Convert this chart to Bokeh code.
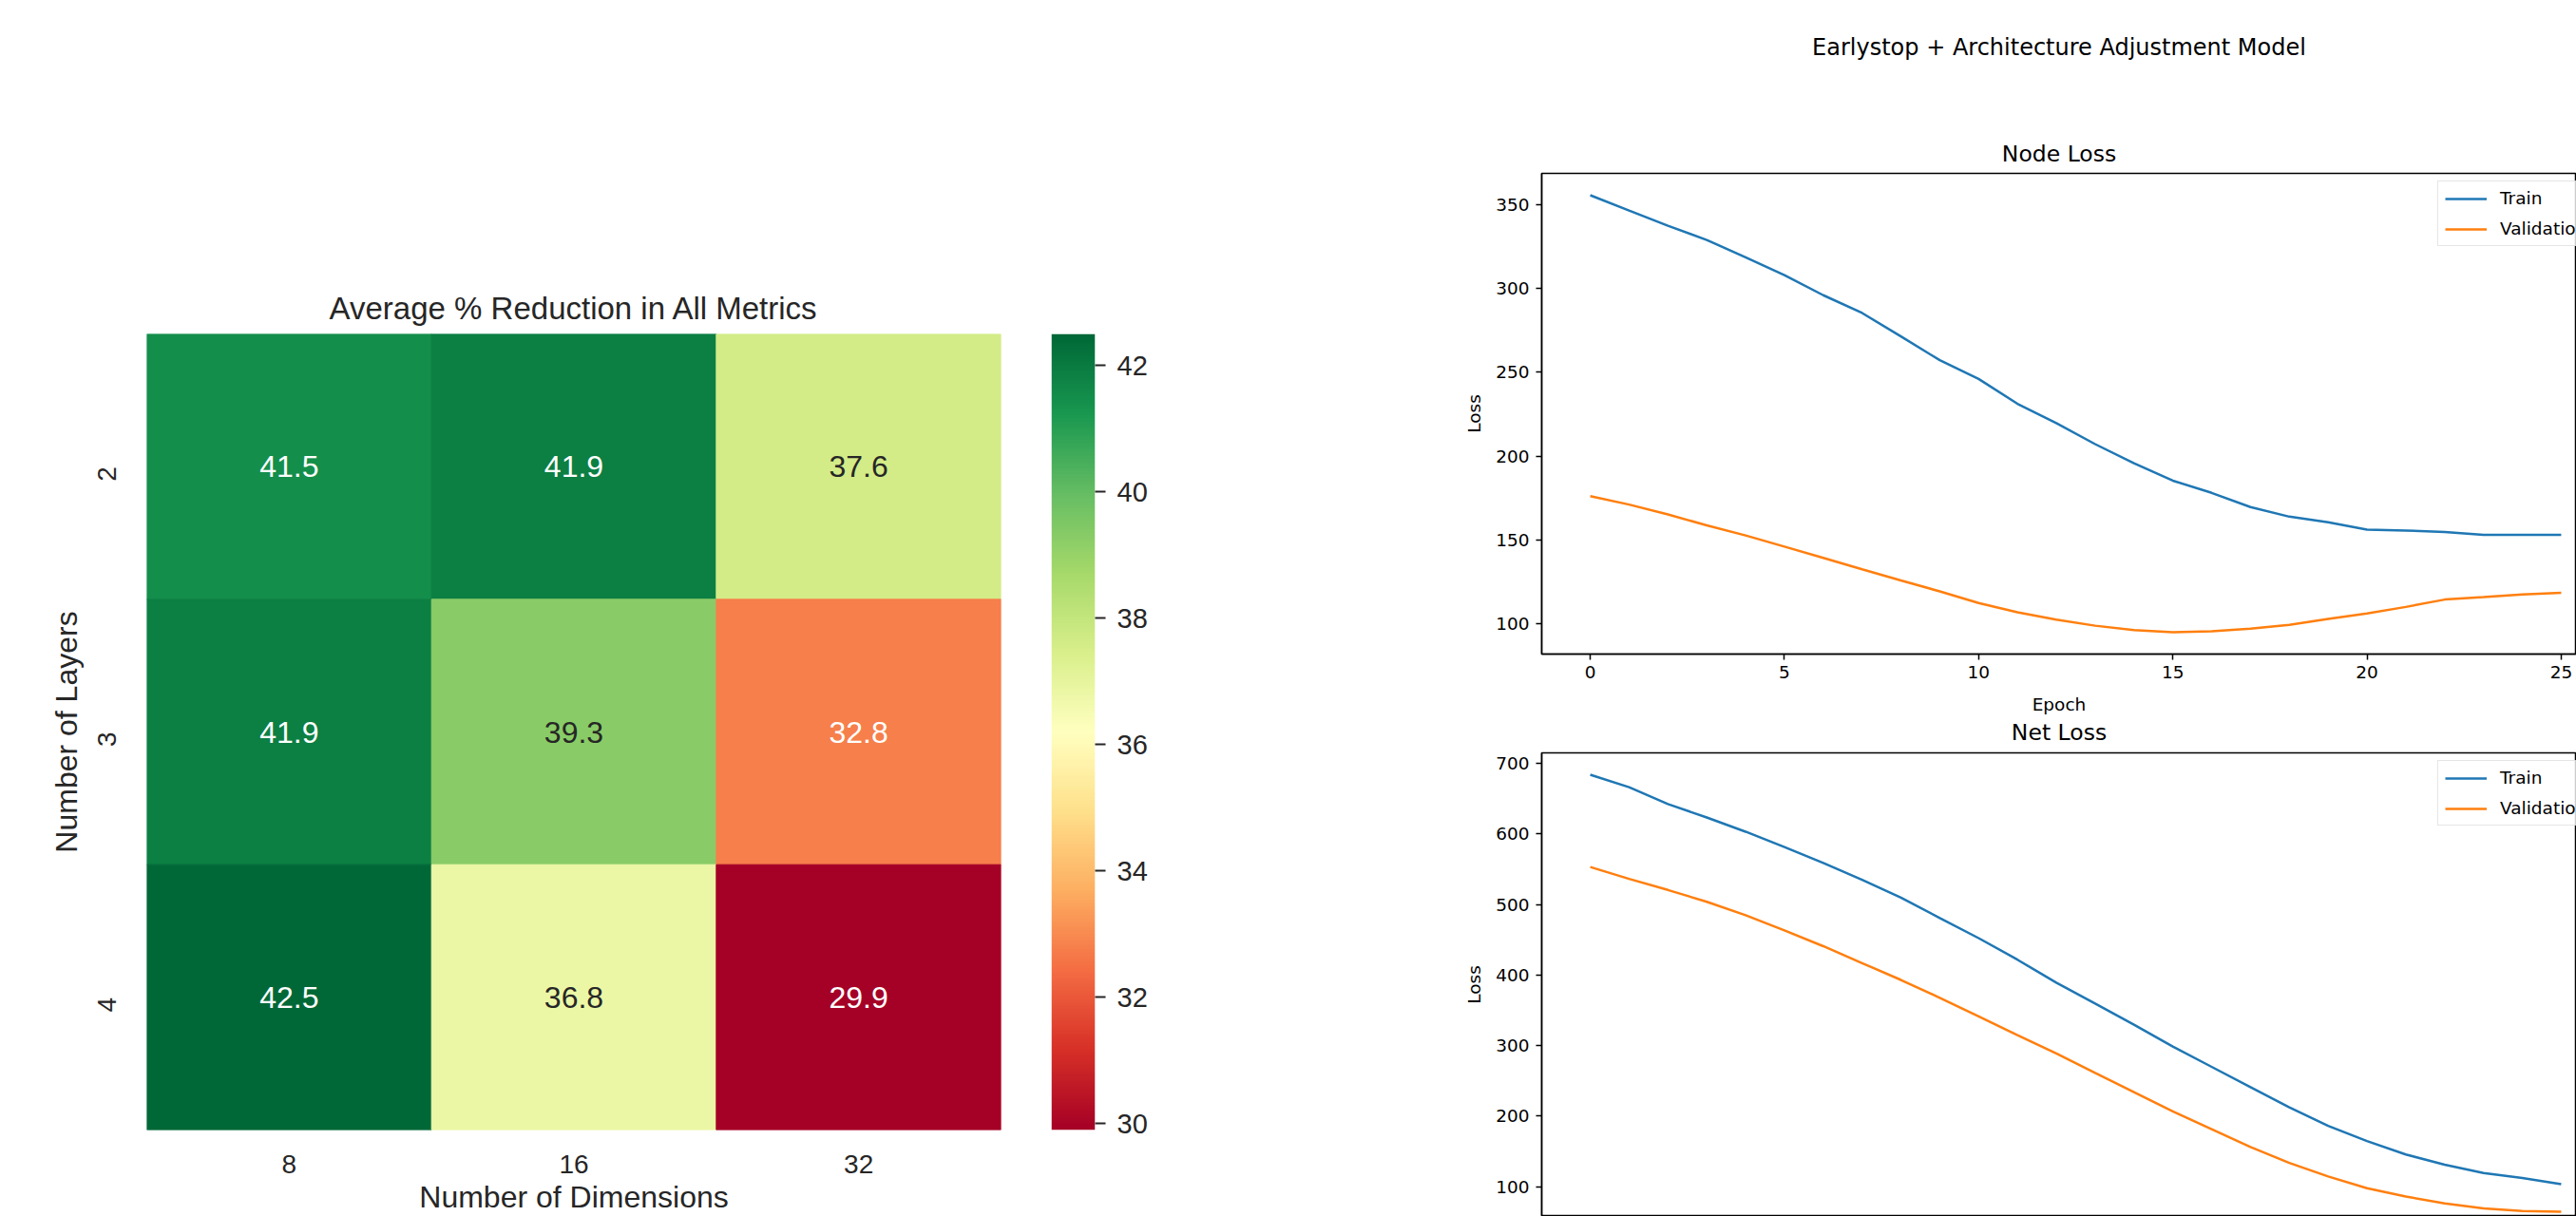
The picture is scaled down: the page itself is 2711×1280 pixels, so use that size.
import math
import numpy as np
from bokeh.plotting import figure
from bokeh.layouts import row, column
from bokeh.models import (ColumnDataSource, FactorRange, Range1d, LinearColorMapper,
                          LinearAxis, FixedTicker, Title, Legend, LegendItem)
from bokeh.core.properties import value
from bokeh.embed import file_html
from bokeh.resources import INLINE

# ---------------- data ----------------
dims = ["8", "16", "32"]
layers = ["2", "3", "4"]
reduction_l2 = [41.5, 41.9, 37.6]
reduction_l3 = [41.9, 39.3, 32.8]
reduction_l4 = [42.5, 36.8, 29.9]
cbar_ticks = [30, 32, 34, 36, 38, 40, 42]

epochs = list(range(26))
node_train = [355.7, 346.6, 337.5, 329.0, 318.6, 308.0, 296.0, 285.4, 271.4, 257.2,
              246.0, 231.2, 219.6, 207.1, 195.7, 185.3, 178.0, 169.5, 163.8, 160.4,
              156.0, 155.5, 154.7, 153.0, 153.0, 153.0]
node_val = [176.0, 171.0, 165.1, 158.6, 152.6, 145.9, 139.2, 132.4, 125.7, 119.2,
            112.2, 106.7, 102.3, 98.7, 96.1, 94.8, 95.3, 96.9, 99.2, 102.8,
            106.0, 109.9, 114.3, 115.8, 117.4, 118.4]
net_train = [684.2, 666.5, 642.6, 623.5, 603.4, 581.5, 559.0, 535.0, 509.8, 481.0,
             452.4, 421.8, 389.3, 359.7, 329.5, 298.5, 269.8, 241.1, 212.4, 186.1,
             164.6, 145.5, 131.1, 119.2, 112.0, 103.4]
net_val = [553.3, 536.5, 520.7, 504.0, 485.0, 463.4, 441.0, 417.0, 393.1, 367.8,
           341.5, 314.7, 288.9, 261.2, 233.9, 206.7, 181.4, 156.0, 133.6, 114.4,
           97.7, 85.8, 76.2, 69.0, 65.2, 64.3]
epoch_ticks = [0, 5, 10, 15, 20, 25]
node_yticks = [100, 150, 200, 250, 300, 350]
net_yticks = [100, 200, 300, 400, 500, 600, 700]

# ---------------- colour map (matplotlib RdYlGn) ----------------
rdylgn = ['#a50026', '#d73027', '#f46d43', '#fdae61', '#fee08b', '#ffffbf',
          '#d9ef8b', '#a6d96a', '#66bd63', '#1a9850', '#006837']


def hex2rgb(h):
    return tuple(int(h[i:i + 2], 16) for i in (1, 3, 5))


base_rgb = np.array([hex2rgb(c) for c in rdylgn], float)
NPAL = 256
pos = np.linspace(0, 1, len(rdylgn))
tt = np.linspace(0, 1, NPAL)
pal_rgb = np.stack([np.interp(tt, pos, base_rgb[:, k]) for k in range(3)], axis=1)
palette = ["#%02x%02x%02x" % tuple(int(round(v)) for v in c) for c in pal_rgb]

matrix = [reduction_l2, reduction_l3, reduction_l4]
allvals = [v for r in matrix for v in r]
vmin, vmax = min(allvals), max(allvals)
mapper = LinearColorMapper(palette=palette, low=vmin, high=vmax)


def rel_lum(rgb):
    c = np.array(rgb) / 255.0
    c = np.where(c <= 0.03928, c / 12.92, ((c + 0.055) / 1.055) ** 2.4)
    return 0.2126 * c[0] + 0.7152 * c[1] + 0.0722 * c[2]


xs, ys, vals, labels, tcols = [], [], [], [], []
for li, lay in enumerate(layers):
    for di, d in enumerate(dims):
        v = matrix[li][di]
        xs.append(d)
        ys.append(lay)
        vals.append(v)
        labels.append(f"{v:.1f}")
        idx = int(round((v - vmin) / (vmax - vmin) * (NPAL - 1)))
        tcols.append("#262626" if rel_lum(pal_rgb[idx]) > 0.408 else "#ffffff")
src = ColumnDataSource(dict(dim=xs, layer=ys, val=vals, label=labels, tcolor=tcols))

SANS = "Liberation Sans"
DARK = "#262626"

# ---------------- heatmap ----------------
hm = figure(width=1080, height=1280, x_range=FactorRange(*dims),
            y_range=FactorRange(*reversed(layers)),
            output_backend="svg", toolbar_location=None,
            min_border_left=154, min_border_right=27,
            min_border_top=351, min_border_bottom=90)
hm.rect(x="dim", y="layer", width=1, height=1, source=src,
        fill_color={"field": "val", "transform": mapper},
        line_color={"field": "val", "transform": mapper}, line_width=1)
hm.text(x="dim", y="layer", text="label", text_color="tcolor", source=src,
        text_align="center", text_baseline="middle",
        text_font=value(SANS), text_font_size="32px")
hm.grid.visible = False
hm.outline_line_color = None
for ax in (hm.xaxis[0], hm.yaxis[0]):
    ax.axis_line_color = None
    ax.major_tick_line_color = None
    ax.minor_tick_line_color = None
    ax.major_label_text_font = SANS
    ax.major_label_text_font_size = "28px"
    ax.major_label_text_color = DARK
    ax.axis_label_text_font = SANS
    ax.axis_label_text_font_size = "32px"
    ax.axis_label_text_font_style = "normal"
    ax.axis_label_text_color = DARK
hm.xaxis.axis_label = "Number of Dimensions"
hm.xaxis.major_label_standoff = 20
hm.xaxis.axis_label_standoff = 4
hm.yaxis.axis_label = "Number of Layers"
hm.yaxis.major_label_orientation = math.pi / 2
hm.yaxis.major_label_standoff = 36
hm.yaxis.axis_label_standoff = 3
hm.title.text = "Average % Reduction in All Metrics"
hm.title.align = "center"
hm.title.text_font = SANS
hm.title.text_font_size = "33px"
hm.title.text_font_style = "normal"
hm.title.text_color = DARK
hm.title.standoff = 18

# ---------------- colour bar ----------------
cb = figure(width=440, height=1280, x_range=Range1d(0, 1), y_range=Range1d(vmin, vmax),
            output_backend="svg", toolbar_location=None,
            x_axis_location=None, y_axis_location=None,
            min_border_left=26, min_border_right=368,
            min_border_top=351, min_border_bottom=90)
grad = np.linspace(vmin, vmax, 512).reshape(512, 1)
cb.image(image=[grad], x=0, y=vmin, dw=1, dh=vmax - vmin, color_mapper=mapper)
cb.grid.visible = False
cb.outline_line_color = None
cax = LinearAxis(ticker=FixedTicker(ticks=cbar_ticks))
cax.axis_line_color = None
cax.major_tick_line_color = DARK
cax.major_tick_line_width = 2
cax.major_tick_out = 11
cax.major_tick_in = 0
cax.minor_tick_line_color = None
cax.major_label_standoff = 12
cax.major_label_text_font = SANS
cax.major_label_text_font_size = "29px"
cax.major_label_text_color = DARK
cb.add_layout(cax, "right")

# ---------------- loss plots ----------------
MPL = "DejaVu Sans"
BLUE, ORANGE = "#1f77b4", "#ff7f0e"
FULL_W, VIS_W = 1124.0, 1089.0      # matplotlib axes width vs visible part
FULL_H, VIS_H = 506.0, 488.0


def mpl_lim(lo, hi, m=0.05):
    s = hi - lo
    return lo - m * s, hi + m * s


x0, x1 = mpl_lim(min(epochs), max(epochs))
x1_vis = x0 + (x1 - x0) * VIS_W / FULL_W
ny0, ny1 = mpl_lim(min(node_train + node_val), max(node_train + node_val))
my0, my1 = mpl_lim(min(net_train + net_val), max(net_train + net_val))
my0_vis = my1 - (my1 - my0) * VIS_H / FULL_H


def style_title(t, size="23.5px", standoff=14):
    t.align = "center"
    t.text_font = MPL
    t.text_font_size = size
    t.text_font_style = "normal"
    t.text_color = "black"
    t.standoff = standoff


def style_axes(p):
    p.grid.visible = False
    p.outline_line_color = "black"
    p.outline_line_width = 1.5
    p.background_fill_color = "white"
    for ax in p.axis:
        ax.axis_line_color = "black"
        ax.axis_line_width = 1.5
        ax.major_tick_line_color = "black"
        ax.major_tick_line_width = 1.5
        ax.major_tick_out = 6
        ax.major_tick_in = 0
        ax.minor_tick_line_color = None
        ax.major_label_standoff = 7
        ax.major_label_text_font = MPL
        ax.major_label_text_font_size = "18.5px"
        ax.major_label_text_color = "black"
        ax.axis_label_text_font = MPL
        ax.axis_label_text_font_size = "18.5px"
        ax.axis_label_text_font_style = "normal"
        ax.axis_label_text_color = "black"


def add_legend(p, r_tr, r_va, bottom):
    lg = Legend(items=[LegendItem(label="Train", renderers=[r_tr]),
                       LegendItem(label="Validation", renderers=[r_va])],
                location=(943, bottom))
    lg.label_text_font = MPL
    lg.label_text_font_size = "18.5px"
    lg.label_text_color = "black"
    lg.glyph_width = 44
    lg.glyph_height = 20
    lg.label_height = 20
    lg.label_standoff = 14
    lg.spacing = 11
    lg.padding = 7
    lg.margin = 0
    lg.border_line_color = "#cccccc"
    lg.border_line_width = 1.5
    lg.background_fill_alpha = 0.8
    p.add_layout(lg)


# figure-level title of the right-hand panel
sup = figure(width=1191, height=100, x_range=Range1d(0, 1), y_range=Range1d(0, 1),
             output_backend="svg", toolbar_location=None,
             x_axis_location=None, y_axis_location=None,
             min_border_left=102, min_border_right=0,
             min_border_top=63, min_border_bottom=0)
sup.grid.visible = False
sup.outline_line_color = None
sup.title.text = "Earlystop + Architecture Adjustment Model"
style_title(sup.title, size="24px", standoff=0)

node = figure(width=1191, height=687, x_range=Range1d(x0, x1_vis), y_range=Range1d(ny0, ny1),
              output_backend="svg", toolbar_location=None,
              min_border_left=102, min_border_right=0,
              min_border_top=82, min_border_bottom=99)
r1 = node.line(epochs, node_train, line_color=BLUE, line_width=2.5)
r2 = node.line(epochs, node_val, line_color=ORANGE, line_width=2.5)
style_axes(node)
node.title.text = "Node Loss"
style_title(node.title)
node.xaxis.ticker = FixedTicker(ticks=epoch_ticks)
node.yaxis.ticker = FixedTicker(ticks=node_yticks)
node.xaxis.axis_label = "Epoch"
node.xaxis.major_label_standoff = 6
node.xaxis.axis_label_standoff = 14
node.yaxis.axis_label = "Loss"
node.yaxis.axis_label_standoff = 9
add_legend(node, r1, r2, 429)
# title of the lower panel sits just under the upper panel's x axis
net_title = Title(text="Net Loss")
style_title(net_title, standoff=0)
node.add_layout(net_title, "below")

net = figure(width=1191, height=493, x_range=Range1d(x0, x1_vis), y_range=Range1d(my0_vis, my1),
             output_backend="svg", toolbar_location=None, x_axis_location=None,
             min_border_left=102, min_border_right=0,
             min_border_top=5, min_border_bottom=0)
r3 = net.line(epochs, net_train, line_color=BLUE, line_width=2.5)
r4 = net.line(epochs, net_val, line_color=ORANGE, line_width=2.5)
style_axes(net)
net.yaxis.ticker = FixedTicker(ticks=net_yticks)
net.yaxis.axis_label = "Loss"
net.yaxis.axis_label_standoff = 9
add_legend(net, r3, r4, 411)

layout = row(hm, cb, column(sup, node, net, spacing=0), spacing=0)
open("out.html", "w").write(file_html(layout, INLINE))
